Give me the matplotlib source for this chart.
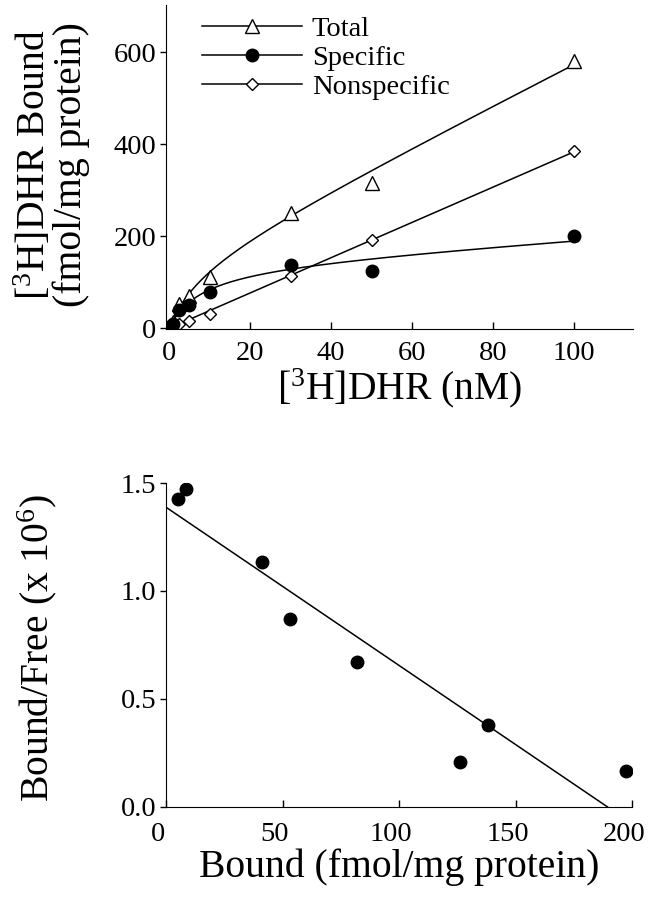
import numpy as np
import matplotlib
matplotlib.use("Agg")
import matplotlib.pyplot as plt
import matplotlib.transforms as mtransforms
from matplotlib.lines import Line2D

plt.rcParams['font.family'] = ['Liberation Serif', 'DejaVu Serif']
plt.rcParams['mathtext.fontset'] = 'custom'
plt.rcParams['mathtext.rm'] = 'Liberation Serif'
plt.rcParams['mathtext.it'] = 'Liberation Serif:italic'

# ---- saturation data ----
conc = [0.5, 1, 2.5, 5, 10, 30, 50, 100]           # [3H]DHR (nM)
total = [8, 13, 52, 70, 111, 250, 315, 582]
specific = [5, 9, 39, 51, 79, 137, 125, 200]
nonspecific = [2, 4, 10, 16, 31, 113, 191, 386]

# fitted specific binding curve parameters
BMAX = 140.0
KD = 8.0
LIN = 0.6

# ---- Scatchard data ----
bound = [5.1, 8.7, 41.1, 53.1, 82.0, 126.1, 138.3, 197.5]
bound_free = [1.426, 1.474, 1.133, 0.870, 0.672, 0.207, 0.380, 0.167]

top_xticks = [0, 20, 40, 60, 80, 100]
top_yticks = [0, 200, 400, 600]
bot_xticks = [0, 50, 100, 150, 200]
bot_yticks = [0.0, 0.5, 1.0, 1.5]

W, H = 650, 899
fig = plt.figure(figsize=(W / 100, H / 100), dpi=100)

def ax_rect(l, t, r, b):
    return [l / W, 1 - b / H, (r - l) / W, (b - t) / H]

TICK_FS = 20.5
LAB_FS = 28.5

# ---------------- top panel ----------------
ax1 = fig.add_axes(ax_rect(166, 5, 633, 329))
c = np.array(conc, float)
xs = np.linspace(0, 100, 400)
ns_slope = np.sum(c * np.array(nonspecific)) / np.sum(c * c)
spec_fit = BMAX * xs / (KD + xs) + LIN * xs
ns_fit = ns_slope * xs
tot_fit = spec_fit + ns_fit

ax1.plot(xs, tot_fit, color='black', lw=1.1)
ax1.plot(xs, spec_fit, color='black', lw=1.1)
ax1.plot(xs, ns_fit, color='black', lw=1.1)
ax1.plot(conc, total, ls='none', marker='^', ms=9.5, mfc='white', mec='black', mew=1.0)
ax1.plot(conc, nonspecific, ls='none', marker='D', ms=6.5, mfc='white', mec='black', mew=1.0)
ax1.plot(conc, specific, ls='none', marker='o', ms=9, mfc='black', mec='black')

ax1.set_xlim(-0.75, 114.5)
ax1.set_ylim(-1.5, 703)
ax1.set_xticks(top_xticks)
ax1.set_yticks(top_yticks)
for s in ['top', 'right']:
    ax1.spines[s].set_visible(False)
ax1.tick_params(axis='x', direction='in', length=5, width=1, labelsize=TICK_FS, pad=9)
ax1.tick_params(axis='y', direction='out', length=4, width=1, labelsize=TICK_FS, pad=3)

handles = [
    Line2D([], [], color='black', lw=1.1, marker='^', ms=9.5, mfc='white', mec='black'),
    Line2D([], [], color='black', lw=1.1, marker='o', ms=9, mfc='black', mec='black'),
    Line2D([], [], color='black', lw=1.1, marker='D', ms=6.5, mfc='white', mec='black'),
]
ax1.legend(handles, ['Total', 'Specific', 'Nonspecific'], loc='upper left',
           bbox_to_anchor=(0.053, 1.0), frameon=False, fontsize=20.5,
           handlelength=3.5, handletextpad=0.35, labelspacing=0.1, numpoints=1,
           borderaxespad=0.0)

ax1.set_xlabel('[$^{3}$H]DHR (nM)', fontsize=LAB_FS, labelpad=0)
fig.text(34 / W, 1 - 165 / H, '[$^{3}$H]DHR Bound', rotation=90, fontsize=LAB_FS,
         ha='center', va='center')
fig.text(71 / W, 1 - 165 / H, '(fmol/mg protein)', rotation=90, fontsize=LAB_FS,
         ha='center', va='center')

# ---------------- bottom panel ----------------
ax2 = fig.add_axes(ax_rect(166, 483, 632, 807))
slope, intercept = np.polyfit(bound, bound_free, 1)
x_int = -intercept / slope
xl = np.array([0, x_int])
ax2.plot(xl, slope * xl + intercept, color='black', lw=1.1)
ax2.plot(bound, bound_free, ls='none', marker='o', ms=9, mfc='black', mec='black')
ax2.set_xlim(0, 200)
ax2.set_ylim(0, 1.5)
ax2.set_xticks(bot_xticks)
ax2.set_yticks(bot_yticks)
ax2.set_yticklabels(['0.0', '0.5', '1.0', '1.5'])
for s in ['top', 'right']:
    ax2.spines[s].set_visible(False)
ax2.tick_params(axis='x', direction='in', length=5, width=1, labelsize=TICK_FS, pad=11)
ax2.tick_params(axis='y', direction='out', length=4, width=1, labelsize=TICK_FS, pad=3)
shift = mtransforms.ScaledTranslation(-8 / 100, 0, fig.dpi_scale_trans)
for lab in ax2.get_xticklabels():
    lab.set_transform(lab.get_transform() + shift)
ax2.set_xlabel('Bound (fmol/mg protein)', fontsize=LAB_FS, labelpad=1)
ax2.set_ylabel('Bound/Free (x 10$^{6}$)', fontsize=LAB_FS)
ax2.yaxis.set_label_coords(-0.229, 0.49)

fig.savefig('out.png', dpi=100)
